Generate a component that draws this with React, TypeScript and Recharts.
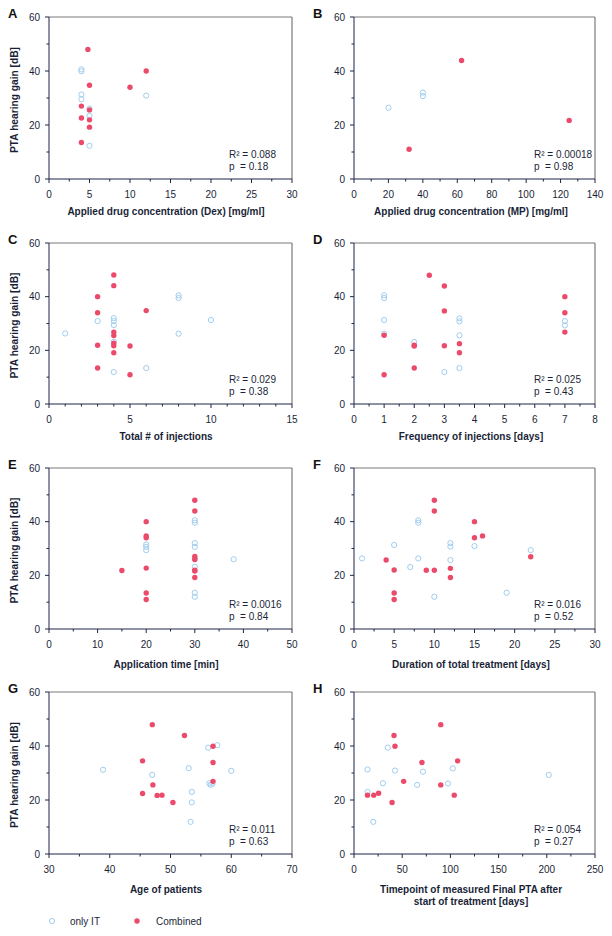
import React from "react";
import { ScatterChart, Scatter, XAxis, YAxis, ReferenceLine } from "recharts";

const NAVY = "#1d2547";
const TEXT = "#1a1f38";
const BLUE = "#9fcdf0";
const PINK = "#ec4a6a";
const FRAME = "#7a7a7a";
const FONT = '"Liberation Sans", Arial, sans-serif';

type Pt = [number, number];

// A: applied drug concentration (Dex)
const dexIT: Pt[] = [[4, 40.6], [4, 39.9], [4, 31.3], [4, 29.5], [5, 26.1], [5, 23.4], [5, 12.3], [12, 30.9]];
const dexComb: Pt[] = [[4.8, 48], [5, 34.7], [4, 27], [5, 25.6], [4, 22.6], [5, 21.9], [5, 19.2], [4, 13.5], [10, 34], [12, 40]];

// B: applied drug concentration (MP)
const mpIT: Pt[] = [[20, 26.4], [40, 32], [40, 30.7]];
const mpComb: Pt[] = [[32, 11], [62.5, 43.9], [125, 21.7]];

// C: total number of injections
const injIT: Pt[] = [[1, 26.3], [3, 30.9], [4, 32], [4, 30.9], [4, 29.4], [4, 23.2], [4, 11.9], [6, 13.4], [8, 40.5], [8, 39.5], [8, 26.2], [10, 31.3]];
const injComb: Pt[] = [[4, 48.1], [4, 44.1], [3, 40], [3, 34], [3, 21.9], [3, 13.4], [4, 26.8], [4, 25.5], [4, 22.7], [4, 21.7], [4, 19.1], [5, 21.6], [5, 10.9], [6, 34.8]];

// D: frequency of injections
const freqIT: Pt[] = [[1, 40.5], [1, 39.5], [1, 31.3], [1, 26.2], [2, 23.1], [3, 11.9], [3.5, 31.9], [3.5, 30.8], [3.5, 25.6], [3.5, 13.4], [7, 30.9], [7, 29.3]];
const freqComb: Pt[] = [[2.5, 48], [3, 44], [3, 34.7], [3, 21.7], [3.5, 22.5], [3.5, 19.1], [1, 25.6], [1, 10.9], [2, 21.9], [2, 21.6], [2, 13.4], [7, 40], [7, 34], [7, 26.8]];

// E: application time
const timeIT: Pt[] = [[20, 31.5], [20, 30.6], [20, 29.4], [30, 40.5], [30, 39.6], [30, 32], [30, 30.6], [30, 26.2], [30, 23.2], [30, 13.5], [30, 12], [38, 26]];
const timeComb: Pt[] = [[15, 21.8], [20, 40], [20, 34.7], [20, 34], [20, 22.7], [20, 13.4], [20, 11], [30, 48], [30, 44], [30, 27], [30, 25.9], [30, 21.9], [30, 21.6], [30, 19.2]];

// F: duration of total treatment
const durIT: Pt[] = [[1, 26.3], [5, 31.3], [7, 23.1], [8, 40.5], [8, 39.6], [8, 26.3], [10, 12], [12, 32], [12, 30.7], [12, 25.7], [15, 30.9], [19, 13.5], [22, 29.4]];
const durComb: Pt[] = [[10, 48], [10, 44], [15, 40], [15, 34], [16, 34.7], [4, 25.7], [5, 22], [5, 13.4], [5, 11], [9, 21.9], [10, 21.9], [12, 22.6], [12, 19.2], [22, 26.9]];

// G: age of patients
const ageIT: Pt[] = [[38.9, 31.2], [47, 29.3], [53, 31.8], [53.5, 23], [53.5, 19.1], [53.3, 11.9], [56.2, 39.4], [57.7, 40.3], [56.4, 26.2], [56.6, 25.6], [56.9, 26], [60, 30.8]];
const ageComb: Pt[] = [[47, 47.9], [52.3, 43.9], [57, 39.9], [57, 33.9], [57, 26.9], [45.4, 34.5], [45.4, 22.4], [47.1, 25.6], [47.8, 21.7], [48.6, 21.8], [50.4, 19.1]];

// H: timepoint of final PTA
const ptaIT: Pt[] = [[14, 31.3], [14, 23], [20, 11.9], [30, 26.2], [35, 39.4], [42.5, 30.9], [71.5, 30.5], [65.5, 25.6], [97.5, 26.1], [102.5, 31.7], [202, 29.3]];
const ptaComb: Pt[] = [[90, 47.9], [41.5, 43.9], [42.5, 39.9], [70.5, 33.9], [107.5, 34.5], [51.5, 26.9], [90, 25.6], [14, 21.8], [20.5, 21.8], [25.5, 22.5], [39.5, 19.1], [104, 21.8]];

const yTicks = [0, 10, 20, 30, 40, 50, 60];

const COLS = [[49, 292], [354, 595]];
const ROWS = [[17, 179], [243, 404], [468, 629], [692, 854]];
const XLABEL_Y = [211, 436, 664, 889];

const panels = [
  { id: "A", col: 0, row: 0, it: dexIT, comb: dexComb, x: [0, 30, 2.5, 5], r2: "0.088", p: "0.18", label: ["Applied drug concentration (Dex) [mg/ml]"] },
  { id: "B", col: 1, row: 0, it: mpIT, comb: mpComb, x: [0, 140, 10, 20], r2: "0.00018", p: "0.98", label: ["Applied drug concentration (MP) [mg/ml]"] },
  { id: "C", col: 0, row: 1, it: injIT, comb: injComb, x: [0, 15, 1, 5], r2: "0.029", p: "0.38", label: ["Total # of injections"] },
  { id: "D", col: 1, row: 1, it: freqIT, comb: freqComb, x: [0, 8, 0.5, 1], r2: "0.025", p: "0.43", label: ["Frequency of injections [days]"] },
  { id: "E", col: 0, row: 2, it: timeIT, comb: timeComb, x: [0, 50, 5, 10], r2: "0.0016", p: "0.84", label: ["Application time [min]"] },
  { id: "F", col: 1, row: 2, it: durIT, comb: durComb, x: [0, 30, 2.5, 5], r2: "0.016", p: "0.52", label: ["Duration of total treatment [days]"] },
  { id: "G", col: 0, row: 3, it: ageIT, comb: ageComb, x: [30, 70, 5, 10], r2: "0.011", p: "0.63", label: ["Age of patients"] },
  { id: "H", col: 1, row: 3, it: ptaIT, comb: ptaComb, x: [0, 250, 25, 50], r2: "0.054", p: "0.27", label: ["Timepoint of measured Final PTA after", "start of treatment [days]"] },
];

const steps = (min: number, max: number, step: number) =>
  Array.from({ length: Math.round((max - min) / step) + 1 }, (_, i) => min + i * step);

const isMajor = (v: number, min: number, major: number) => {
  const k = (v - min) / major;
  return Math.abs(k - Math.round(k)) < 1e-6;
};

const openDot = (p: any) => <circle cx={p.cx} cy={p.cy} r={2.6} fill="#fff" fillOpacity={0} stroke={BLUE} strokeWidth={1} />;
const fillDot = (p: any) => <circle cx={p.cx} cy={p.cy} r={2.7} fill={PINK} />;

function Panel({ cfg }: { cfg: any }) {
  const [px0, px1] = COLS[cfg.col];
  const [py0, py1] = ROWS[cfg.row];
  const left = px0 - 40;
  const top = py0 - 10;
  const w = px1 - px0 + 55;
  const h = py1 - py0 + 30;
  const axisY = 10 + (py1 - py0);
  const axisX = 40;
  const [xMin, xMax, xStep, xMajor] = cfg.x;

  const xTick = (t: any) => {
    const v = t.payload.value;
    const major = isMajor(v, xMin, xMajor);
    return (
      <g>
        <line x1={t.x} x2={t.x} y1={axisY} y2={axisY + (major ? 4 : 2.5)} stroke={NAVY} />
        {major && (
          <text x={t.x} y={axisY + 15} textAnchor="middle" dominantBaseline="central" fontSize={10} fill={TEXT} fontFamily={FONT}>
            {v}
          </text>
        )}
      </g>
    );
  };
  const yTick = (t: any) => {
    const v = t.payload.value;
    const major = v % 20 === 0;
    return (
      <g>
        <line x1={axisX - (major ? 4 : 2.5)} x2={axisX} y1={t.y} y2={t.y} stroke={NAVY} />
        {major && (
          <text x={axisX - 9} y={t.y} textAnchor="end" dominantBaseline="central" fontSize={10} fill={TEXT} fontFamily={FONT}>
            {v}
          </text>
        )}
      </g>
    );
  };

  const it = cfg.it.map(([x, y]: Pt) => ({ x, y }));
  const comb = cfg.comb.map(([x, y]: Pt) => ({ x, y }));

  return (
    <div style={{ position: "absolute", left, top }}>
      <ScatterChart width={w} height={h} margin={{ top: 10, right: 15, left: 10, bottom: 0 }}>
        <XAxis type="number" dataKey="x" domain={[xMin, xMax]} ticks={steps(xMin, xMax, xStep)} interval={0}
          tickLine={false} axisLine={{ stroke: NAVY }} height={20} tick={xTick} allowDataOverflow />
        <YAxis type="number" dataKey="y" domain={[0, 60]} ticks={yTicks} interval={0}
          tickLine={false} axisLine={{ stroke: NAVY }} width={30} tick={yTick} allowDataOverflow />
        <ReferenceLine y={60} stroke={FRAME} strokeWidth={1.2} />
        <ReferenceLine x={xMax} stroke={FRAME} strokeWidth={1.2} />
        <Scatter data={it} shape={openDot} isAnimationActive={false} />
        <Scatter data={comb} shape={fillDot} isAnimationActive={false} />
      </ScatterChart>
    </div>
  );
}

function Overlay() {
  return (
    <svg width={612} height={936} style={{ position: "absolute", left: 0, top: 0, pointerEvents: "none" }} fontFamily={FONT}>
      {panels.map((cfg) => {
        const [px0] = COLS[cfg.col];
        const [py0, py1] = ROWS[cfg.row];
        const lx = cfg.col === 0 ? 8 : 313;
        const cx = cfg.col === 0 ? 166 : 471;
        const ly = XLABEL_Y[cfg.row];
        return (
          <g key={cfg.id}>
            <text x={lx} y={py0 + 1} fontSize={13} fontWeight="bold" fill="#111">{cfg.id}</text>
            {cfg.col === 0 && (
              <text transform={`translate(14 ${(py0 + py1) / 2 + 2}) rotate(-90)`} textAnchor="middle" dominantBaseline="central"
                fontSize={10.2} fontWeight="bold" fill={TEXT}>PTA hearing gain [dB]</text>
            )}
            {cfg.label.map((s, i) => (
              <text key={i} x={cx} y={ly + i * 12.5} textAnchor="middle" dominantBaseline="central" fontSize={10} fontWeight="bold" fill={TEXT}>{s}</text>
            ))}
            <text x={px0 + 180} y={py1 - 25} dominantBaseline="central" fontSize={10} fill={TEXT} style={{ whiteSpace: "pre" }}>{`R² = ${cfg.r2}`}</text>
            <text x={px0 + 180} y={py1 - 13} dominantBaseline="central" fontSize={10} fill={TEXT} style={{ whiteSpace: "pre" }}>{`p  = ${cfg.p}`}</text>
          </g>
        );
      })}
      <circle cx={52} cy={921} r={2.6} fill="none" stroke={BLUE} strokeWidth={1} />
      <text x={70} y={921} dominantBaseline="central" fontSize={10} fill={TEXT}>only IT</text>
      <circle cx={137} cy={921} r={2.7} fill={PINK} />
      <text x={156} y={921} dominantBaseline="central" fontSize={10} fill={TEXT}>Combined</text>
    </svg>
  );
}

export default function App() {
  return (
    <div style={{ position: "absolute", left: 0, top: 0, width: 612, height: 936, background: "#fff" }}>
      {panels.map((cfg) => (
        <Panel key={cfg.id} cfg={cfg} />
      ))}
      <Overlay />
    </div>
  );
}
